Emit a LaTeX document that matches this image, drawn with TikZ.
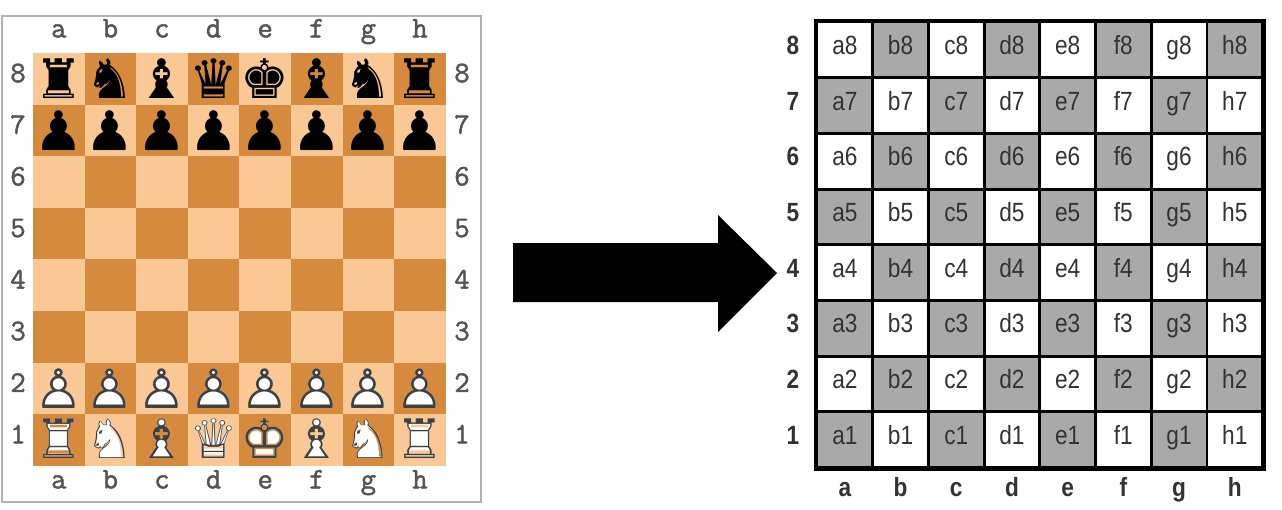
\documentclass[tikz,border=0pt]{standalone}
\usepackage{fontspec}
\newfontfamily\piecefont{DejaVu Sans}
\newfontfamily\cellfont[FakeStretch=0.86]{Liberation Sans}
\newfontfamily\coordfont[FakeBold=1.6]{Latin Modern Mono}
\definecolor{lightsq}{HTML}{FAC895}
\definecolor{darksq}{HTML}{D68A3E}
\definecolor{cellgray}{HTML}{A9A9A9}
\definecolor{labelgray}{HTML}{555555}
\definecolor{textdark}{HTML}{333333}
\tikzset{
  coordlabel/.style={font=\coordfont\fontsize{17}{17}\selectfont, text=labelgray,
    text height=1.2ex, text depth=0.3ex, inner sep=0pt},
  piece/.style={font=\piecefont\fontsize{31}{31}\selectfont, inner sep=0pt},
  cell/.style={draw=black, line width=1.6pt, minimum size=1.114cm, inner sep=0pt,
    font=\cellfont\fontsize{15}{15}\selectfont, text=textdark,
    text height=1.5ex, text depth=0.3ex},
  ranklabel/.style={font=\cellfont\bfseries\fontsize{15}{15}\selectfont, text=textdark,
    text height=1.5ex, text depth=0.3ex, inner sep=0pt}
}
\begin{document}
\begin{tikzpicture}[x=0.02cm,y=-0.02cm]
\useasboundingbox (0,0) rectangle (1282,510);
% left board
\draw[gray!60, line width=0.8pt] (2,16) rectangle (481,502);
\fill[lightsq] (33,53) rectangle (445.8,465.8);
\foreach \i in {0,...,7}
  \foreach \r in {1,...,8} {
    \pgfmathtruncatemacro{\p}{mod(\i+\r,2)}
    \ifnum\p=1
      \fill[darksq] ({33+51.6*\i},{53+51.6*(8-\r)}) rectangle +(51.6,51.6);
    \fi
  }
\foreach \f [count=\i from 0] in {a,b,c,d,e,f,g,h} {
  \node[coordlabel] (Lt-\f) at ({58.8+51.6*\i},34) {\f};
  \node[coordlabel] (Lb-\f) at ({58.8+51.6*\i},485) {\f};
}
\foreach \r in {1,...,8} {
  \node[coordlabel] (Ll-\r) at (18,{491.6-51.6*\r}) {\r};
  \node[coordlabel] (Lr-\r) at (462,{491.6-51.6*\r}) {\r};
}
% pieces
\foreach \f/\w/\b [count=\i from 0] in {a/♖/♜,b/♘/♞,c/♗/♝,d/♕/♛,e/♔/♚,f/♗/♝,g/♘/♞,h/♖/♜} {
  \node[piece] (P-\f8) at ({58.8+51.6*\i},78.8) {\b};
  \node[piece] (P-\f7) at ({58.8+51.6*\i},130.4) {♟};
  \node[piece, text=white] (P-\f2) at ({58.8+51.6*\i},388.4) {♟};
  \node[piece, text=black!75] (Q-\f2) at ({58.8+51.6*\i},388.4) {♙};
  \node[piece, text=white] (P-\f1) at ({58.8+51.6*\i},439) {\b};
  \node[piece, text=black!75] (Q-\f1) at ({58.8+51.6*\i},439) {\w};
}
% arrow
\fill[black] (513,243) -- (718,243) -- (718,215) -- (777,273)
  -- (718,332) -- (718,302) -- (513,302) -- cycle;
% right board
\foreach \f [count=\i from 0] in {a,b,c,d,e,f,g,h} {
  \foreach \r in {1,...,8} {
    \pgfmathtruncatemacro{\p}{mod(\i+\r,2)}
    \ifnum\p=1 \def\tint{cellgray}\else\def\tint{white}\fi
    \node[cell, fill=\tint] (R-\f\r) at ({844.85+55.7*\i},{495.45-55.7*\r}) {\f\r};
  }
  \node[ranklabel] (Rb-\f) at ({844.85+55.7*\i},492) {\f};
}
\foreach \r in {1,...,8}
  \node[ranklabel] (Rl-\r) at (793,{495.45-55.7*\r}) {\r};
\draw[line width=1.8pt] (R-a8.north west) rectangle (R-h1.south east);
\end{tikzpicture}
\end{document}
